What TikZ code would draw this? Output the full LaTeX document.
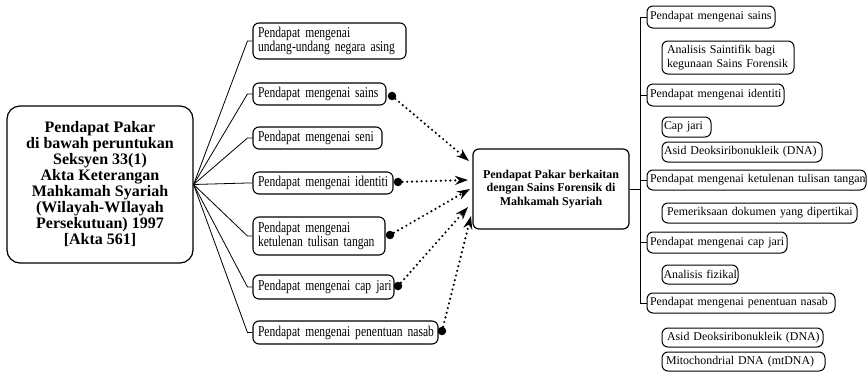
\documentclass[tikz,border=0pt]{standalone}
\usepackage{fontspec}
\setmainfont{Liberation Serif}
\newfontfamily\condfont[FakeStretch=0.77]{Liberation Serif}
\usetikzlibrary{arrows.meta,calc}
\begin{document}
\begin{tikzpicture}[x=1pt,y=-1pt,
  bigbox/.style={draw,line width=1.2pt,rounded corners=13pt,align=center,inner sep=0pt,
    font=\bfseries\fontsize{16}{16}\selectfont},
  cbox/.style={draw,line width=1.2pt,rounded corners=6pt,align=center,inner sep=0pt,
    font=\bfseries\fontsize{12}{13.5}\selectfont},
  mbox/.style={draw,line width=1.1pt,rounded corners=6pt,inner xsep=5pt,inner ysep=0pt,align=left,
    font=\condfont\fontsize{15}{14}\selectfont},
  rbox/.style={draw,line width=1pt,rounded corners=6pt,inner xsep=3pt,inner ysep=0pt,align=left,
    font=\fontsize{11.9}{13.5}\selectfont},
  fan/.style={line width=0.8pt},
  tree/.style={line width=0.9pt},
  dotn/.style={circle,fill=black,inner sep=0pt,minimum size=8.5pt},
  dotarrow/.style={line width=2.4pt,dash pattern=on 0pt off 4.8pt,line cap=round,
    -{Stealth[length=13pt,width=9pt]}}
]
\useasboundingbox (0,0) rectangle (868,372);

% left main box
\node[bigbox,minimum width=186pt,minimum height=157pt] (L) at (100,184.5)
  {Pendapat Pakar\\di bawah peruntukan\\Seksyen 33(1)\\Akta Keterangan\\Mahkamah Syariah\\(Wilayah-WIlayah\\Persekutuan) 1997\\{[Akta 561]}};

% middle boxes
\node[mbox,text width=143pt,minimum height=36pt] (B1) at (329.5,41)
  {\mbox{Pendapat mengenai}\\\mbox{undang-undang negara asing}};
\node[mbox,text width=123pt,minimum height=22pt] (B2) at (319.5,94) {\mbox{Pendapat mengenai sains}};
\node[mbox,text width=119pt,minimum height=22pt] (B3) at (317.5,138) {\mbox{Pendapat mengenai seni}};
\node[mbox,text width=130pt,minimum height=22pt] (B4) at (323,183) {\mbox{Pendapat mengenai identiti}};
\node[mbox,text width=122pt,minimum height=38pt] (B5) at (319,236)
  {\mbox{Pendapat mengenai}\\\mbox{ketulenan tulisan tangan}};
\node[mbox,text width=131pt,minimum height=24pt] (B6) at (323.5,287) {\mbox{Pendapat mengenai cap jari}};
\node[mbox,text width=175pt,minimum height=23pt] (B7) at (345.5,332.5) {\mbox{Pendapat mengenai penentuan nasab}};

% fan connectors
\foreach \b in {B1,B2,B3,B4,B5,B6,B7}
  \draw[fan] (L.east) -- ([xshift=-5pt]\b.west) -- (\b.west);

% centre box
\node[cbox,minimum width=156pt,minimum height=80pt] (C) at (551,189)
  {Pendapat Pakar berkaitan\\dengan Sains Forensik di\\Mahkamah Syariah};

% dots
\node[dotn] (d2) at (392,96) {};
\node[dotn] (d4) at (398,182) {};
\node[dotn] (d5) at (390,235) {};
\node[dotn] (d6) at (398,286) {};
\node[dotn] (d7) at (442,331) {};

% arrow tips
\coordinate (t1) at (469,161);
\coordinate (t2) at (468,180);
\coordinate (t3) at (470,189);
\coordinate (t4) at (468,207);
\coordinate (t5) at (471,216);

\draw[dotarrow] (d2) -- (t1);
\draw[dotarrow] (d4) -- (t2);
\draw[dotarrow] (d5) -- (t3);
\draw[dotarrow] (d6) -- (t4);
\draw[dotarrow] (d7) -- (t5);

% right boxes
\node[rbox,text width=122pt,minimum height=22pt] (R1) at (711,17) {\mbox{Pendapat mengenai sains}};
\node[rbox,inner xsep=5pt,text width=122pt,minimum height=33pt] (R2) at (728,57.5)
  {\mbox{Analisis Saintifik bagi}\\\mbox{kegunaan Sains Forensik}};
\node[rbox,text width=131pt,minimum height=22pt] (R3) at (715.5,95) {\mbox{Pendapat mengenai identiti}};
\node[rbox,inner xsep=2pt,text width=45pt,minimum height=20pt] (R4) at (686.5,127) {\mbox{Cap jari}};
\node[rbox,inner xsep=2pt,text width=156pt,minimum height=20pt] (R5) at (742,152) {\mbox{Asid Deoksiribonukleik (DNA)}};
\node[rbox,text width=213pt,minimum height=20pt] (R6) at (756.5,180) {\mbox{Pendapat mengenai ketulenan tulisan tangan}};
\node[rbox,inner xsep=5pt,text width=185pt,minimum height=20pt] (R7) at (759.5,213) {\mbox{Pemeriksaan dokumen yang dipertikai}};
\node[rbox,text width=134pt,minimum height=21pt] (R8) at (717,242.5) {\mbox{Pendapat mengenai cap jari}};
\node[rbox,inner xsep=1.5pt,text width=73pt,minimum height=19pt] (R9) at (700,274.5) {\mbox{Analisis fizikal}};
\node[rbox,text width=182pt,minimum height=20pt] (R10) at (741,303) {\mbox{Pendapat mengenai penentuan nasab}};
\node[rbox,inner xsep=5pt,text width=151pt,minimum height=19pt] (R11) at (742.5,337.5) {\mbox{Asid Deoksiribonukleik (DNA)}};
\node[rbox,inner xsep=4pt,text width=155pt,minimum height=19pt] (R12) at (743.5,361.5) {\mbox{Mitochondrial DNA (mtDNA)}};

% right tree
\coordinate (trunk) at (641,189);
\draw[tree] (C.east) -- (trunk);
\draw[tree] (R1.west) -- ++(-6,0) |- (R10.west);
\foreach \r in {R3,R6,R8}
  \draw[tree] (\r.west) -- ++(-6,0);
\end{tikzpicture}
\end{document}
